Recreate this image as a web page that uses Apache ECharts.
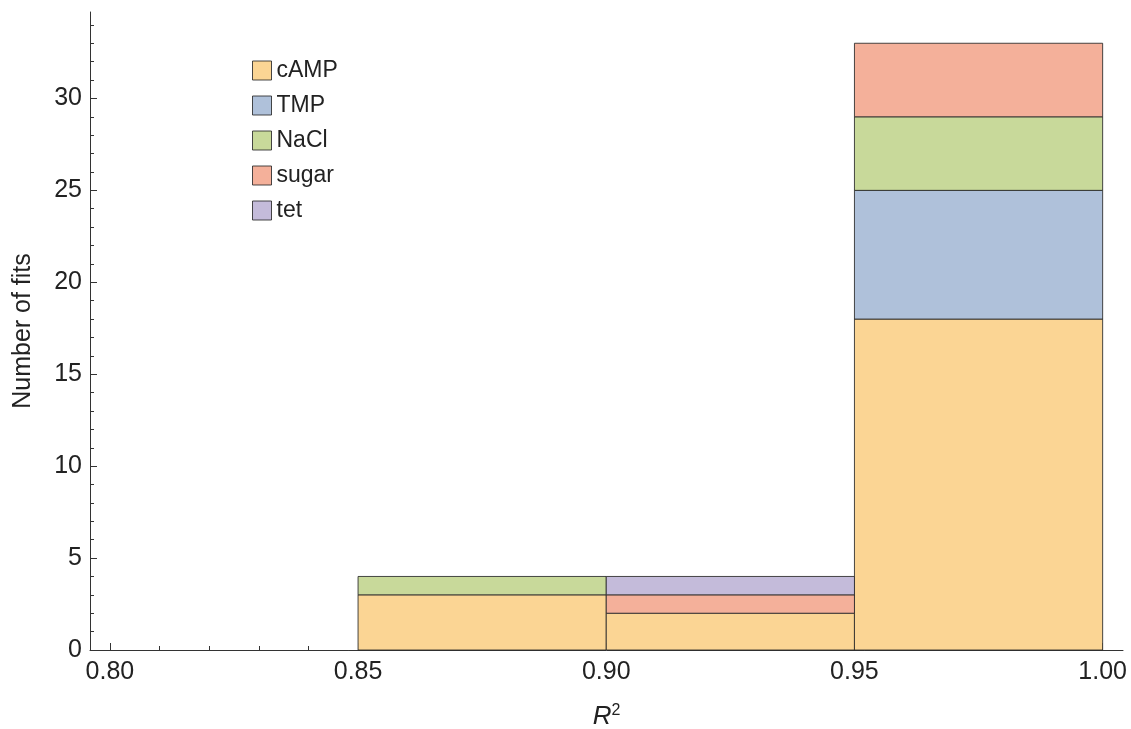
<!DOCTYPE html>
<html>
<head>
<meta charset="utf-8">
<script src="https://cdn.jsdelivr.net/npm/echarts@6/dist/echarts.min.js"></script>
<style>
  html, body { margin: 0; padding: 0; background: #fff; }
  #chart { width: 1131px; height: 729px; }
</style>
</head>
<body>
<div id="chart"></div>
<script>
// Histogram of R^2 values, stacked by condition
const binEdges = [0.85, 0.90, 0.95, 1.00];
const seriesNames = ['cAMP', 'TMP', 'NaCl', 'sugar', 'tet'];
const cAMP  = [3, 2, 18];
const TMP   = [0, 0, 7];
const NaCl  = [1, 0, 4];
const sugar = [0, 1, 4];
const tet   = [0, 1, 0];
const counts = [cAMP, TMP, NaCl, sugar, tet];

const colors = ['#fbd594', '#afc1da', '#c8d99a', '#f4b09a', '#c4bbda'];

const xMajorTicks = [0.80, 0.85, 0.90, 0.95, 1.00];
const xMinorTicks = [0.81, 0.82, 0.83, 0.84, 0.86, 0.87, 0.88, 0.89,
                     0.91, 0.92, 0.93, 0.94, 0.96, 0.97, 0.98, 0.99];
const yMajorTicks = [0, 5, 10, 15, 20, 25, 30];
const yMinorTicks = [1, 2, 3, 4, 6, 7, 8, 9, 11, 12, 13, 14, 16, 17, 18, 19,
                     21, 22, 23, 24, 26, 27, 28, 29, 31, 32, 33, 34];

const X_MIN = 0.796, X_MAX = 1.0041, Y_MIN = 0, Y_MAX = 34.7;
const edgeColor = 'rgba(40,40,40,0.85)';
const textColor = '#222';
const fontFamily = '"Liberation Sans", Arial, sans-serif';

// stacked rectangles [x0, x1, y0, y1] per series
const base = binEdges.slice(0, -1).map(() => 0);
const series = counts.map((vals, si) => {
  const data = [];
  vals.forEach((v, bi) => {
    if (v > 0) {
      data.push([binEdges[bi], binEdges[bi + 1], base[bi], base[bi] + v]);
      base[bi] += v;
    }
  });
  return {
    type: 'custom',
    name: seriesNames[si],
    xAxisIndex: 0,
    yAxisIndex: 0,
    itemStyle: { color: colors[si], borderColor: edgeColor, borderWidth: 1 },
    encode: { x: [0, 1], y: [2, 3] },
    data: data,
    renderItem: function (params, api) {
      const p0 = api.coord([api.value(0), api.value(3)]);
      const p1 = api.coord([api.value(1), api.value(2)]);
      return {
        type: 'rect',
        shape: { x: p0[0], y: p0[1], width: p1[0] - p0[0], height: p1[1] - p0[1] },
        style: { fill: colors[si], stroke: edgeColor, lineWidth: 1 }
      };
    }
  };
});

const chart = echarts.init(document.getElementById('chart'), null, { renderer: 'canvas' });
chart.setOption({
  animation: false,
  backgroundColor: '#fff',
  textStyle: { fontFamily: fontFamily },
  grid: { left: 90, right: 8, top: 12, bottom: 79, containLabel: false, outerBoundsMode: 'none' },
  legend: {
    orient: 'vertical',
    left: 247,
    top: 54,
    itemWidth: 19,
    itemHeight: 19,
    itemGap: 12,
    icon: 'rect',
    textStyle: { fontSize: 23, color: textColor, fontFamily: fontFamily },
    data: seriesNames.map((n, i) => ({
      name: n,
      itemStyle: { color: colors[i], borderColor: edgeColor, borderWidth: 1 }
    }))
  },
  xAxis: [
    {
      type: 'value', min: X_MIN, max: X_MAX, position: 'bottom',
      name: '{r|R}{s|2}',
      nameLocation: 'middle',
      nameGap: 53,
      nameTextStyle: {
        rich: {
          r: { fontSize: 26, fontStyle: 'italic', color: textColor, fontFamily: fontFamily },
          s: { fontSize: 16, color: textColor, fontFamily: fontFamily, verticalAlign: 'top', padding: [0, 0, 12, 0] }
        }
      },
      axisLine: { show: true, lineStyle: { color: '#333', width: 1 } },
      axisTick: { show: true, inside: true, length: 7, customValues: xMajorTicks, lineStyle: { color: '#333' } },
      axisLabel: {
        show: true, customValues: xMajorTicks, margin: 10,
        fontSize: 25, color: textColor, fontFamily: fontFamily,
        formatter: v => v.toFixed(2)
      },
      splitLine: { show: false }
    },
    {
      type: 'value', min: X_MIN, max: X_MAX, position: 'bottom',
      axisLine: { show: false },
      axisTick: { show: true, inside: true, length: 4, customValues: xMinorTicks, lineStyle: { color: '#333' } },
      axisLabel: { show: false },
      splitLine: { show: false }
    }
  ],
  yAxis: [
    {
      type: 'value', min: Y_MIN, max: Y_MAX, position: 'left',
      name: 'Number of fits',
      nameLocation: 'middle',
      nameGap: 54,
      nameTextStyle: { fontSize: 25, color: textColor, fontFamily: fontFamily },
      axisLine: { show: true, lineStyle: { color: '#333', width: 1 } },
      axisTick: { show: true, inside: true, length: 7, customValues: yMajorTicks, lineStyle: { color: '#333' } },
      axisLabel: {
        show: true, customValues: yMajorTicks, margin: 8,
        fontSize: 25, color: textColor, fontFamily: fontFamily
      },
      splitLine: { show: false }
    },
    {
      type: 'value', min: Y_MIN, max: Y_MAX, position: 'left',
      axisLine: { show: false },
      axisTick: { show: true, inside: true, length: 4, customValues: yMinorTicks, lineStyle: { color: '#333' } },
      axisLabel: { show: false },
      splitLine: { show: false }
    }
  ],
  series: series
});
</script>
</body>
</html>
